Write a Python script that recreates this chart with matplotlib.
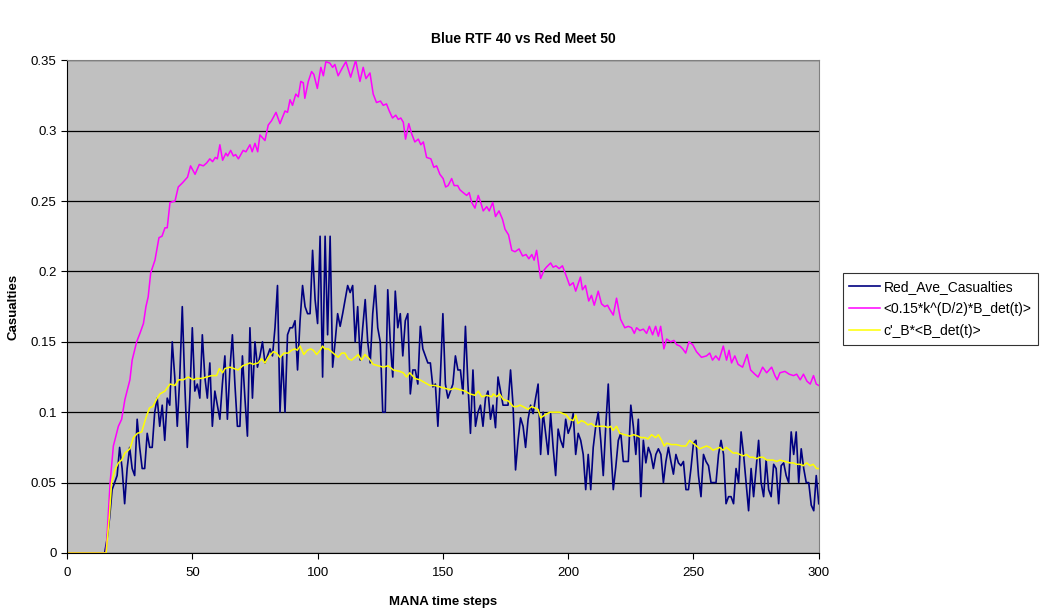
import numpy as np
import matplotlib
matplotlib.use("Agg")
import matplotlib.pyplot as plt

plt.rcParams['font.family'] = ['Liberation Sans', 'DejaVu Sans']

# Red_Ave_Casualties, one value per time step, t = 0..300
red_cas = [0.0]*16 + [
    0.01, 0.025, 0.045, 0.05, 0.055, 0.075, 0.06, 0.035, 0.06,            # 16-24
    0.075, 0.06, 0.055, 0.095, 0.075, 0.06, 0.06, 0.085, 0.075, 0.075,    # 25-34
    0.1, 0.11, 0.09, 0.105, 0.08, 0.11, 0.105, 0.15, 0.125, 0.09,         # 35-44
    0.125, 0.175, 0.12, 0.075, 0.11, 0.16, 0.115, 0.12, 0.11, 0.155,      # 45-54
    0.125, 0.11, 0.135, 0.09, 0.115, 0.105, 0.095, 0.12, 0.14, 0.095,     # 55-64
    0.13, 0.155, 0.12, 0.09, 0.09, 0.14, 0.11, 0.083, 0.16, 0.11,         # 65-74
    0.15, 0.132, 0.14, 0.15, 0.135, 0.14, 0.145, 0.14, 0.16, 0.19,        # 75-84
    0.1, 0.14, 0.1, 0.155, 0.16, 0.16, 0.165, 0.13, 0.165, 0.19,          # 85-94
    0.175, 0.17, 0.17, 0.215, 0.18, 0.163, 0.225, 0.125, 0.225, 0.155,    # 95-104
    0.225, 0.132, 0.15, 0.17, 0.161, 0.17, 0.18, 0.19, 0.185, 0.19,       # 105-114
    0.15, 0.175, 0.137, 0.16, 0.18, 0.15, 0.135, 0.17, 0.19, 0.16,        # 115-124
    0.15, 0.1, 0.1, 0.187, 0.15, 0.125, 0.186, 0.16, 0.17, 0.14,          # 125-134
    0.165, 0.17, 0.113, 0.13, 0.13, 0.12, 0.161, 0.145, 0.14, 0.135,      # 135-144
    0.135, 0.118, 0.12, 0.09, 0.125, 0.17, 0.12, 0.11, 0.115, 0.12,       # 145-154
    0.14, 0.13, 0.13, 0.113, 0.161, 0.12, 0.085, 0.13, 0.09, 0.1,         # 155-164
    0.105, 0.09, 0.11, 0.115, 0.095, 0.105, 0.089, 0.125, 0.115, 0.105,   # 165-174
    0.105, 0.105, 0.13, 0.105, 0.059, 0.08, 0.096, 0.09, 0.075, 0.095,    # 175-184
    0.105, 0.099, 0.11, 0.12, 0.07, 0.1, 0.085, 0.07, 0.099, 0.075,       # 185-194
    0.055, 0.088, 0.08, 0.075, 0.095, 0.085, 0.09, 0.099, 0.07, 0.085,    # 195-204
    0.08, 0.07, 0.045, 0.07, 0.045, 0.075, 0.09, 0.1, 0.08, 0.055,        # 205-214
    0.09, 0.12, 0.075, 0.045, 0.061, 0.08, 0.085, 0.065, 0.065, 0.065,    # 215-224
    0.105, 0.09, 0.07, 0.095, 0.04, 0.08, 0.064, 0.075, 0.07, 0.06,       # 225-234
    0.07, 0.074, 0.07, 0.05, 0.065, 0.075, 0.065, 0.056, 0.07, 0.064,     # 235-244
    0.062, 0.065, 0.045, 0.045, 0.06, 0.078, 0.08, 0.055, 0.04, 0.07,     # 245-254
    0.065, 0.062, 0.05, 0.05, 0.05, 0.07, 0.08, 0.07, 0.035, 0.04,        # 255-264
    0.04, 0.035, 0.06, 0.05, 0.086, 0.07, 0.05, 0.03, 0.06, 0.04,         # 265-274
    0.06, 0.08, 0.05, 0.04, 0.066, 0.045, 0.04, 0.063, 0.06, 0.035,       # 275-284
    0.062, 0.064, 0.055, 0.05, 0.086, 0.07, 0.086, 0.05, 0.074, 0.06,     # 285-294
    0.05, 0.05, 0.034, 0.03, 0.055, 0.035]                                # 295-300
red_t = list(range(len(red_cas)))

# <0.15*k^(D/2)*B_det(t)>
mag_t = [0, 15.6, 17.2, 18.5, 20.5, 21.8, 23.1, 25.1, 26, 27.8, 29.1, 30.5, 31.5, 32.4, 33.4,
         35.1, 36.7, 37.9, 39.1, 40, 41.1, 43.1, 44.4, 46.1, 47.1, 48.1, 49.3, 51.1, 52.8,
         54.4, 55.7, 57, 58.1, 59.2, 60, 61, 62.1, 63.4, 64.1, 65.3, 66.4, 67.3, 68.4, 70.3,
         71.4, 73, 73.9, 75, 76.1, 77, 79, 80.3, 81.6, 83.4, 85, 87, 88, 89, 90, 91.3, 92.3,
         93.3, 94.3, 94.9, 96.3, 97.6, 98.5, 99.9, 101.3, 102.3, 103.3, 104.9, 106, 106.9,
         108.2, 110, 111.3, 113.2, 114.2, 115.2, 116.9, 118.2, 119.3, 120.9, 122.2, 123.5,
         125.1, 126.2, 127.5, 128.6, 129.9, 131.2, 132.2, 133.2, 134.2, 135.1, 136.4, 137.5,
         138.8, 140.2, 141.2, 142.2, 143.5, 145.2, 146.4, 147.5, 148.8, 150.1, 151.1, 152.1,
         153.5, 154.5, 155.9, 156.8, 158.1, 159.5, 160.5, 161.5, 162.8, 164.1, 165.1, 166.1,
         167.5, 168.5, 169.9, 171, 172.4, 173.8, 174.8, 176.2, 177.5, 178.8, 180.4, 181.8,
         183.2, 184.3, 185.5, 186.4, 187.4, 189, 190.4, 191.3, 193, 194, 195.1, 196.4, 197.7,
         199.4, 200.6, 202, 203, 204.9, 205.7, 206.9, 208.2, 209.3, 210.4, 212, 213.3, 214.6,
         215.7, 216.6, 218, 219.3, 220.9, 222.6, 224, 225.3, 226.4, 227.3, 228.6, 230, 231.3,
         232.4, 233.7, 234.9, 236, 236.9, 238.2, 239.3, 240.9, 242.2, 243.3, 244.6, 245.7,
         246.9, 248.2, 249.7, 251.2, 253.2, 255.2, 256.5, 257.6, 258.9, 260.2, 261.9, 263.2,
         264.2, 265.2, 266.5, 267.8, 269.6, 271.4, 272.8, 274.5, 275.8, 277.6, 279.2, 281.2,
         282.5, 283.4, 284.5, 286.5, 288.2, 289.9, 291.2, 292.6, 293.9, 295.3, 296.6, 297.9,
         299, 300]
mag_v = [0, 0, 0.05, 0.076, 0.09, 0.095, 0.109, 0.123, 0.137, 0.15, 0.156, 0.163, 0.175, 0.182,
         0.199, 0.208, 0.224, 0.225, 0.231, 0.231, 0.249, 0.25, 0.26, 0.263, 0.265, 0.267,
         0.275, 0.269, 0.276, 0.275, 0.277, 0.28, 0.278, 0.281, 0.28, 0.29, 0.279, 0.284,
         0.282, 0.286, 0.282, 0.283, 0.28, 0.286, 0.285, 0.29, 0.285, 0.291, 0.285, 0.297,
         0.293, 0.304, 0.307, 0.313, 0.305, 0.314, 0.313, 0.322, 0.318, 0.326, 0.324, 0.335,
         0.334, 0.323, 0.335, 0.342, 0.34, 0.33, 0.345, 0.339, 0.349, 0.348, 0.345, 0.347,
         0.339, 0.345, 0.349, 0.338, 0.344, 0.35, 0.335, 0.345, 0.337, 0.341, 0.326, 0.32,
         0.321, 0.318, 0.319, 0.314, 0.309, 0.311, 0.308, 0.309, 0.306, 0.294, 0.305, 0.298,
         0.292, 0.294, 0.29, 0.292, 0.281, 0.28, 0.274, 0.275, 0.269, 0.266, 0.26, 0.261,
         0.266, 0.261, 0.261, 0.258, 0.256, 0.254, 0.256, 0.249, 0.245, 0.254, 0.249, 0.243,
         0.246, 0.243, 0.249, 0.239, 0.243, 0.237, 0.23, 0.226, 0.215, 0.214, 0.216, 0.211,
         0.212, 0.209, 0.212, 0.208, 0.215, 0.195, 0.201, 0.203, 0.206, 0.203, 0.204, 0.202,
         0.204, 0.196, 0.19, 0.192, 0.186, 0.196, 0.187, 0.19, 0.179, 0.183, 0.176, 0.186,
         0.177, 0.175, 0.176, 0.173, 0.169, 0.181, 0.166, 0.16, 0.161, 0.16, 0.156, 0.16,
         0.158, 0.159, 0.156, 0.161, 0.155, 0.161, 0.154, 0.161, 0.145, 0.152, 0.15, 0.151,
         0.148, 0.147, 0.145, 0.142, 0.15, 0.148, 0.143, 0.139, 0.14, 0.142, 0.137, 0.14,
         0.137, 0.147, 0.137, 0.144, 0.135, 0.14, 0.134, 0.132, 0.141, 0.13, 0.127, 0.125,
         0.132, 0.128, 0.132, 0.126, 0.123, 0.128, 0.129, 0.127, 0.126, 0.127, 0.123, 0.127,
         0.122, 0.12, 0.126, 0.12, 0.119]

# c'_B*<B_det(t)>
yel_t = [0, 15.6, 16.9, 17.8, 19.1, 20.5, 21.8, 23.1, 25.1, 26.5, 28.1, 29.8, 31.5, 32.9, 34.2,
         36, 37.1, 39.1, 41.1, 43.1, 44.4, 46.4, 48.4, 50.4, 51.7, 53.7, 55.7, 57.7, 59.7,
         60.8, 62.1, 63, 65, 66.6, 68.3, 70.1, 71.7, 73, 74.3, 76.3, 77.6, 79, 80.3, 82.3,
         83.6, 85, 86.6, 88.3, 89.6, 91, 91.9, 93, 94.5, 95.9, 97.2, 98.3, 99.6, 101, 102,
         102.9, 104.3, 106.2, 108.2, 109.6, 110.9, 112.2, 113.6, 114.9, 116.2, 117.5, 118.9,
         120.6, 122.2, 124.2, 126.2, 128.2, 130.2, 132.8, 134.2, 135.5, 136.8, 138.8, 140.8,
         142.8, 144.8, 146.8, 148.8, 150.8, 152.8, 154.8, 156.8, 158.8, 160.8, 162.8, 164.1,
         165.5, 167.5, 169.5, 170.1, 171.5, 172.6, 174.1, 176.1, 178.1, 179.5, 180.8, 182,
         184, 185.4, 186.7, 188, 189, 190.7, 192.7, 194.7, 196.6, 198, 199.3, 200.6, 202,
         203, 203.9, 205.3, 206.6, 207.9, 209.2, 210.6, 211.9, 213.2, 214.6, 215.9, 217,
         217.9, 219.3, 220.6, 222.6, 224.6, 226.2, 227.9, 229, 230.6, 231.9, 233.3, 234.9,
         236, 237.3, 238.3, 239.3, 241.2, 243.2, 245.2, 247, 248.5, 249.8, 251.2, 252.5,
         253.8, 255.2, 256.5, 257.8, 259.2, 260.5, 261.8, 263.1, 264.5, 265.8, 267.2, 268.5,
         269.8, 271.2, 272.5, 273.8, 275.2, 276.5, 277.8, 279.2, 280.5, 281.8, 283.2, 284.5,
         286.5, 288.5, 289.8, 291.1, 292.5, 293.8, 295.2, 296.5, 297.8, 299.1, 300]
yel_v = [0, 0, 0.026, 0.05, 0.059, 0.064, 0.066, 0.071, 0.074, 0.082, 0.085, 0.086, 0.096,
         0.103, 0.104, 0.11, 0.113, 0.115, 0.12, 0.119, 0.123, 0.123, 0.125, 0.123, 0.124,
         0.124, 0.125, 0.126, 0.126, 0.131, 0.128, 0.131, 0.132, 0.131, 0.13, 0.133, 0.134,
         0.135, 0.134, 0.135, 0.138, 0.135, 0.139, 0.143, 0.142, 0.139, 0.142, 0.142, 0.144,
         0.145, 0.144, 0.147, 0.141, 0.144, 0.145, 0.144, 0.141, 0.144, 0.147, 0.145, 0.145,
         0.142, 0.139, 0.142, 0.142, 0.138, 0.137, 0.139, 0.141, 0.137, 0.141, 0.138, 0.134,
         0.133, 0.132, 0.133, 0.13, 0.129, 0.128, 0.125, 0.128, 0.124, 0.123, 0.121, 0.119,
         0.119, 0.118, 0.117, 0.116, 0.117, 0.116, 0.115, 0.113, 0.112, 0.115, 0.111, 0.112,
         0.111, 0.113, 0.111, 0.113, 0.109, 0.108, 0.104, 0.104, 0.105, 0.104, 0.102, 0.104,
         0.103, 0.102, 0.096, 0.098, 0.1, 0.1, 0.1, 0.099, 0.098, 0.095, 0.094, 0.098, 0.092,
         0.094, 0.093, 0.091, 0.092, 0.09, 0.09, 0.09, 0.09, 0.089, 0.09, 0.087, 0.09, 0.085,
         0.084, 0.083, 0.084, 0.083, 0.082, 0.082, 0.081, 0.084, 0.082, 0.084, 0.08, 0.076,
         0.078, 0.077, 0.077, 0.076, 0.076, 0.08, 0.078, 0.076, 0.074, 0.075, 0.076, 0.075,
         0.073, 0.074, 0.075, 0.073, 0.075, 0.073, 0.071, 0.071, 0.07, 0.069, 0.07, 0.068,
         0.068, 0.067, 0.068, 0.068, 0.066, 0.066, 0.066, 0.065, 0.066, 0.065, 0.064, 0.064,
         0.063, 0.063, 0.062, 0.064, 0.062, 0.063, 0.06, 0.06]

fig = plt.figure(figsize=(10.47, 6.09), dpi=100)
ax = fig.add_axes([0.064, 0.092, 0.718, 0.809])
ax.set_facecolor('#C0C0C0')

ax.plot(red_t, red_cas, color='#000080', lw=1.2, label='Red_Ave_Casualties')
ax.plot(mag_t, mag_v, color='#FF00FF', lw=1.1, label='<0.15*k^(D/2)*B_det(t)>')
ax.plot(yel_t, yel_v, color='#FFFF00', lw=1.1, label="c'_B*<B_det(t)>")

ax.set_xlim(0, 300)
ax.set_ylim(0, 0.35)
ax.set_xticks(np.arange(0, 301, 50))
ax.set_yticks(np.arange(0, 0.351, 0.05))
ax.set_yticklabels(['0', '0.05', '0.1', '0.15', '0.2', '0.25', '0.3', '0.35'])
ax.yaxis.grid(True, color='black', lw=0.9)
ax.set_axisbelow(True)
ax.tick_params(direction='out', length=4, labelsize=9.5, width=0.8)
ax.tick_params(axis='x', pad=6)

for s in ['top', 'right']:
    ax.spines[s].set_color('#808080')
for s in ['left', 'bottom']:
    ax.spines[s].set_color('black')

ax.set_xlabel('MANA time steps', fontsize=9.5, fontweight='bold', labelpad=12)
ax.set_ylabel('Casualties', fontsize=9.5, fontweight='bold', labelpad=8)
fig.suptitle('Blue RTF 40 vs Red Meet 50', x=0.5, y=0.948, fontsize=10, fontweight='bold')

leg = fig.legend(loc='upper left', bbox_to_anchor=(0.805, 0.551), fontsize=10,
                 frameon=True, fancybox=False, edgecolor='black', handlelength=2.2,
                 borderpad=0.45, labelspacing=0.6, handletextpad=0.3, borderaxespad=0)
leg.get_frame().set_linewidth(0.8)

fig.savefig('out.png', dpi=100)
